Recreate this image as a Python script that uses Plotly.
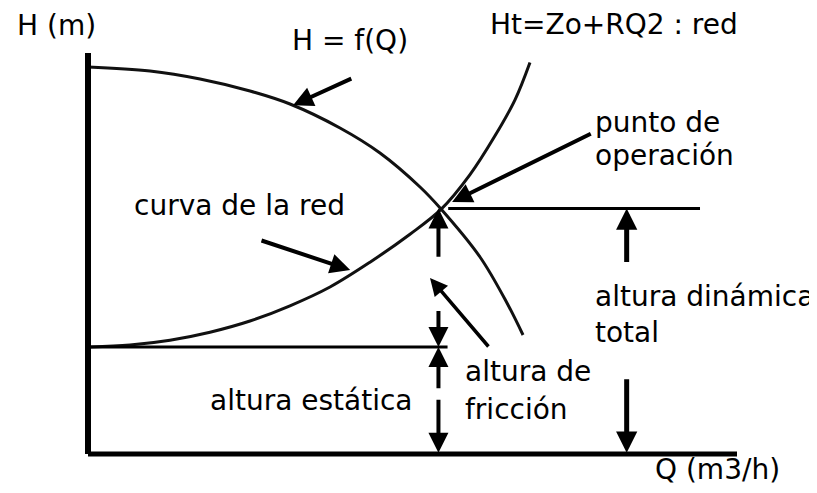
import plotly.graph_objects as go

# ---- data (Q in % of axis length, H in % of axis height) ----
pump_q = [0, 9.55, 17.26, 24.96, 31.12, 38.83, 44.99, 51.16, 54.39, 60.4, 64.56, 67.03]
pump_h = [96.75, 95.75, 93.75, 90.75, 87.5, 81.5, 75.25, 66.75, 61.25, 49.25, 37.75, 29.75]

sys_q = [0.31, 6.47, 12.63, 18.8, 24.96, 31.12, 37.29, 43.45, 49.61, 54.39, 58.86, 62.71, 65.79, 68.1]
sys_h = [26.75, 27.25, 28.45, 30.45, 33.25, 37.05, 41.75, 47.95, 54.95, 61.15, 69.85, 79.55, 88.55, 97.9]

q_op = 54.0        # operating point flow
h_op = 61.4        # operating point head
h_static = 26.75   # static head
q_max = 100.0
h_max = 100.25
q_dyn = 83.0       # where the total-head arrows stand
q_line_end = 94.3  # end of the operating-head line
q_static_end = 55.4

labels = {
    "y_axis": "H (m)",
    "x_axis": "Q (m3/h)",
    "pump": "H = f(Q)",
    "system": "Ht=Zo+RQ2 : red",
    "op1": "punto de",
    "op2": "operación",
    "net": "curva de la red",
    "dyn1": "altura dinámica",
    "dyn2": "total",
    "stat": "altura estática",
    "fric1": "altura de",
    "fric2": "fricción",
}

W, H = 817, 493
PAGE_MARGIN = 8          # default body margin of the html page
PX_Q = 6.49              # pixels per Q unit
PX_H = 4.0               # pixels per H unit
X0, Y0 = 88, 454         # page pixel of the origin
x_lo = -(X0 - PAGE_MARGIN) / PX_Q
y_hi = (Y0 - PAGE_MARGIN) / PX_H
x_range = [x_lo, x_lo + W / PX_Q]
y_range = [y_hi - H / PX_H, y_hi]

FONT = dict(family="DejaVu Sans", size=28, color="black")
BLK = "#000000"

fig = go.Figure()
fig.add_trace(go.Scatter(x=pump_q, y=pump_h, mode="lines",
                         line=dict(color="#111", width=3, shape="spline", smoothing=1.0),
                         hoverinfo="skip", showlegend=False))
fig.add_trace(go.Scatter(x=sys_q, y=sys_h, mode="lines",
                         line=dict(color="#111", width=3, shape="spline", smoothing=1.0),
                         hoverinfo="skip", showlegend=False))

shapes = [
    dict(type="line", x0=0, y0=0, x1=0, y1=h_max, line=dict(color=BLK, width=6)),
    dict(type="line", x0=0, y0=0, x1=q_max, y1=0, line=dict(color=BLK, width=5)),
    dict(type="line", x0=q_op + 1.5, y0=h_op, x1=q_line_end, y1=h_op, line=dict(color=BLK, width=3)),
    dict(type="line", x0=0, y0=h_static, x1=q_static_end, y1=h_static, line=dict(color=BLK, width=3)),
]

anns = []


def arrow(tail_q, tail_h, tip_q, tip_h, width=4, size=1.0):
    anns.append(dict(x=tip_q, y=tip_h, ax=tail_q, ay=tail_h, xref="x", yref="y",
                     axref="x", ayref="y", text="", showarrow=True, arrowhead=2,
                     arrowwidth=width, arrowsize=size, arrowcolor=BLK, standoff=0))


def text(s, q, h):
    anns.append(dict(x=q, y=h, xref="x", yref="y", text=s, showarrow=False,
                     xanchor="left", yanchor="middle", font=FONT))


# friction head (dashed, static to operating point)
fr = h_op - h_static
arrow(q_op, h_static + 0.64 * fr, q_op, h_op)
arrow(q_op, h_static + 0.27 * fr, q_op, h_static)
# static head
arrow(q_op, 0.60 * h_static, q_op, h_static)
arrow(q_op, 0.52 * h_static, q_op, 0.3)
# total dynamic head
arrow(q_dyn, 0.776 * h_op, q_dyn, h_op, width=5, size=0.85)
arrow(q_dyn, 0.31 * h_op, q_dyn, 0.3, width=5, size=0.85)
# label pointers
arrow(40.8, 94.0, 31.6, 87.2)
arrow(26.5, 53.5, 40.4, 46.0)
arrow(77.7, 80.25, 56.1, 63.0)
arrow(61.9, 26.5, 52.7, 44.0, width=3.5)

text(labels["y_axis"], -11.25, 107.25)
text(labels["pump"], 31.1, 103.5)
text(labels["system"], 61.6, 107.5)
text(labels["op1"], 77.8, 83.0)
text(labels["op2"], 77.8, 74.75)
text(labels["net"], 6.8, 62.25)
text(labels["dyn1"], 77.8, 39.5)
text(labels["dyn2"], 77.8, 30.5)
text(labels["stat"], 18.5, 13.5)
text(labels["fric1"], 57.8, 20.75)
text(labels["fric2"], 57.8, 11.25)
text(labels["x_axis"], 87.1, -3.75)

fig.update_layout(
    width=W, height=H, margin=dict(l=0, r=0, t=0, b=0),
    paper_bgcolor="white", plot_bgcolor="white",
    xaxis=dict(range=x_range, visible=False, fixedrange=True),
    yaxis=dict(range=y_range, visible=False, fixedrange=True),
    shapes=shapes, annotations=anns, showlegend=False,
)
fig.write_html("out.html")
